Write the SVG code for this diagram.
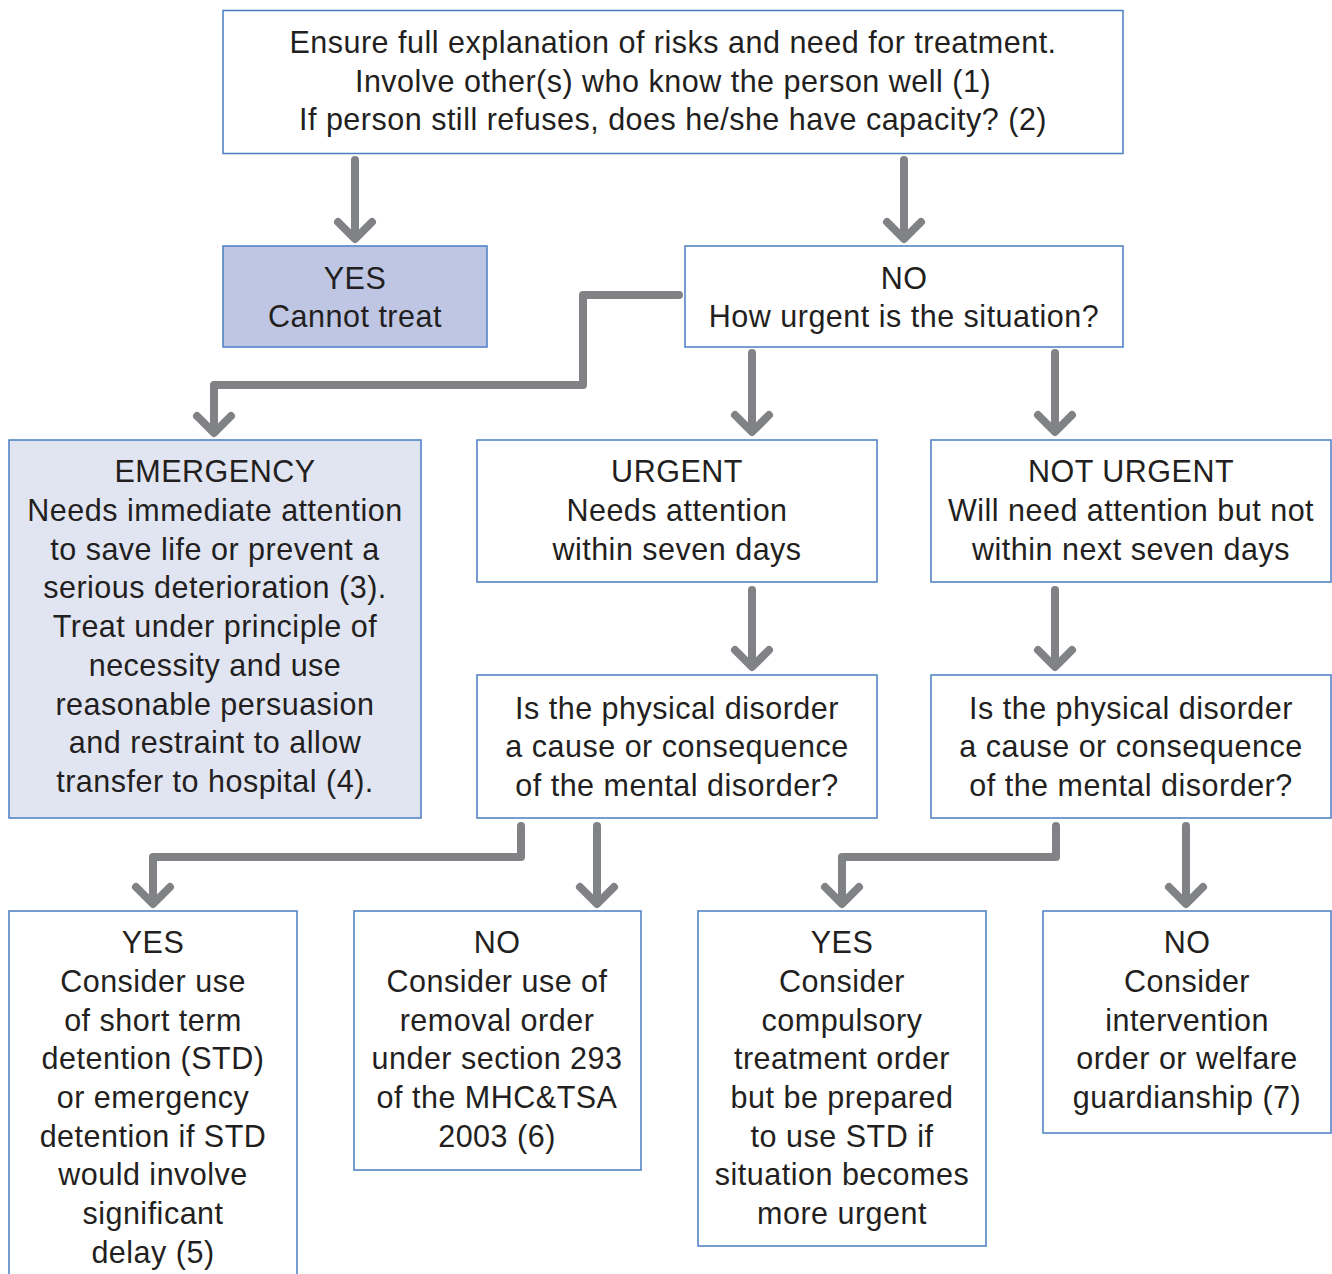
<svg xmlns="http://www.w3.org/2000/svg" width="1332" height="1274" viewBox="0 0 1332 1274">
<style>
.box{fill:#ffffff;stroke:#4a7ec4;stroke-width:1.5}
.dark{fill:#bec6e4}
.light{fill:#e1e5f2}
text{font-family:"Liberation Sans",Arial,sans-serif;font-size:30.5px;letter-spacing:0.5px;fill:#231f20;text-anchor:middle}
.c{fill:none;stroke:#818285;stroke-width:8;stroke-linecap:round;stroke-linejoin:round}
</style>
<rect width="1332" height="1274" fill="#ffffff"/>
<g id="n-top">
<rect class="box" x="223" y="10.5" width="900" height="143"/>
<text x="673" y="53">Ensure full explanation of risks and need for treatment.</text>
<text x="673" y="92">Involve other(s) who know the person well (1)</text>
<text x="673" y="130">If person still refuses, does he/she have capacity? (2)</text>
</g>
<g id="n-yes-cannot">
<rect class="box dark" x="223" y="246" width="264" height="101"/>
<text x="355" y="289">YES</text>
<text x="355" y="327">Cannot treat</text>
</g>
<g id="n-no-urgent">
<rect class="box" x="685" y="246" width="438" height="101"/>
<text x="904" y="289">NO</text>
<text x="904" y="327">How urgent is the situation?</text>
</g>
<g id="n-emergency">
<rect class="box light" x="9" y="440" width="412" height="378"/>
<text x="215" y="482">EMERGENCY</text>
<text x="215" y="521">Needs immediate attention</text>
<text x="215" y="560">to save life or prevent a</text>
<text x="215" y="598">serious deterioration (3).</text>
<text x="215" y="637">Treat under principle of</text>
<text x="215" y="676">necessity and use</text>
<text x="215" y="715">reasonable persuasion</text>
<text x="215" y="753">and restraint to allow</text>
<text x="215" y="792">transfer to hospital (4).</text>
</g>
<g id="n-urgent">
<rect class="box" x="477" y="440" width="400" height="142"/>
<text x="677" y="482">URGENT</text>
<text x="677" y="521">Needs attention</text>
<text x="677" y="560">within seven days</text>
</g>
<g id="n-not-urgent">
<rect class="box" x="931" y="440" width="400" height="142"/>
<text x="1131" y="482">NOT URGENT</text>
<text x="1131" y="521">Will need attention but not</text>
<text x="1131" y="560">within next seven days</text>
</g>
<g id="n-q1">
<rect class="box" x="477" y="675" width="400" height="143"/>
<text x="677" y="719">Is the physical disorder</text>
<text x="677" y="757">a cause or consequence</text>
<text x="677" y="796">of the mental disorder?</text>
</g>
<g id="n-q2">
<rect class="box" x="931" y="675" width="400" height="143"/>
<text x="1131" y="719">Is the physical disorder</text>
<text x="1131" y="757">a cause or consequence</text>
<text x="1131" y="796">of the mental disorder?</text>
</g>
<g id="n-yes-std">
<rect class="box" x="9" y="911" width="288" height="380"/>
<text x="153" y="953">YES</text>
<text x="153" y="992">Consider use</text>
<text x="153" y="1031">of short term</text>
<text x="153" y="1069">detention (STD)</text>
<text x="153" y="1108">or emergency</text>
<text x="153" y="1147">detention if STD</text>
<text x="153" y="1185">would involve</text>
<text x="153" y="1224">significant</text>
<text x="153" y="1263">delay (5)</text>
</g>
<g id="n-no-removal">
<rect class="box" x="354" y="911" width="287" height="259"/>
<text x="497" y="953">NO</text>
<text x="497" y="992">Consider use of</text>
<text x="497" y="1031">removal order</text>
<text x="497" y="1069">under section 293</text>
<text x="497" y="1108">of the MHC&amp;TSA</text>
<text x="497" y="1147">2003 (6)</text>
</g>
<g id="n-yes-cto">
<rect class="box" x="698" y="911" width="288" height="335"/>
<text x="842" y="953">YES</text>
<text x="842" y="992">Consider</text>
<text x="842" y="1031">compulsory</text>
<text x="842" y="1069">treatment order</text>
<text x="842" y="1108">but be prepared</text>
<text x="842" y="1147">to use STD if</text>
<text x="842" y="1185">situation becomes</text>
<text x="842" y="1224">more urgent</text>
</g>
<g id="n-no-intervention">
<rect class="box" x="1043" y="911" width="288" height="222"/>
<text x="1187" y="953">NO</text>
<text x="1187" y="992">Consider</text>
<text x="1187" y="1031">intervention</text>
<text x="1187" y="1069">order or welfare</text>
<text x="1187" y="1108">guardianship (7)</text>
</g>
<g id="connectors">
<path class="c" d="M355 160V238M338 222L355 239L372 222"/>
<path class="c" d="M904 160V238M887 222L904 239L921 222"/>
<path class="c" d="M679 295H583V385H214V432M197 416L214 433L231 416"/>
<path class="c" d="M752 353V431M735 415L752 432L769 415"/>
<path class="c" d="M1055 353V431M1038 415L1055 432L1072 415"/>
<path class="c" d="M752 590V666M735 650L752 667L769 650"/>
<path class="c" d="M1055 590V666M1038 650L1055 667L1072 650"/>
<path class="c" d="M521 826V857H153V903M136 887L153 904L170 887"/>
<path class="c" d="M597 826V903M580 887L597 904L614 887"/>
<path class="c" d="M1056 826V857H842V903M825 887L842 904L859 887"/>
<path class="c" d="M1186 826V903M1169 887L1186 904L1203 887"/>
</g>
</svg>
